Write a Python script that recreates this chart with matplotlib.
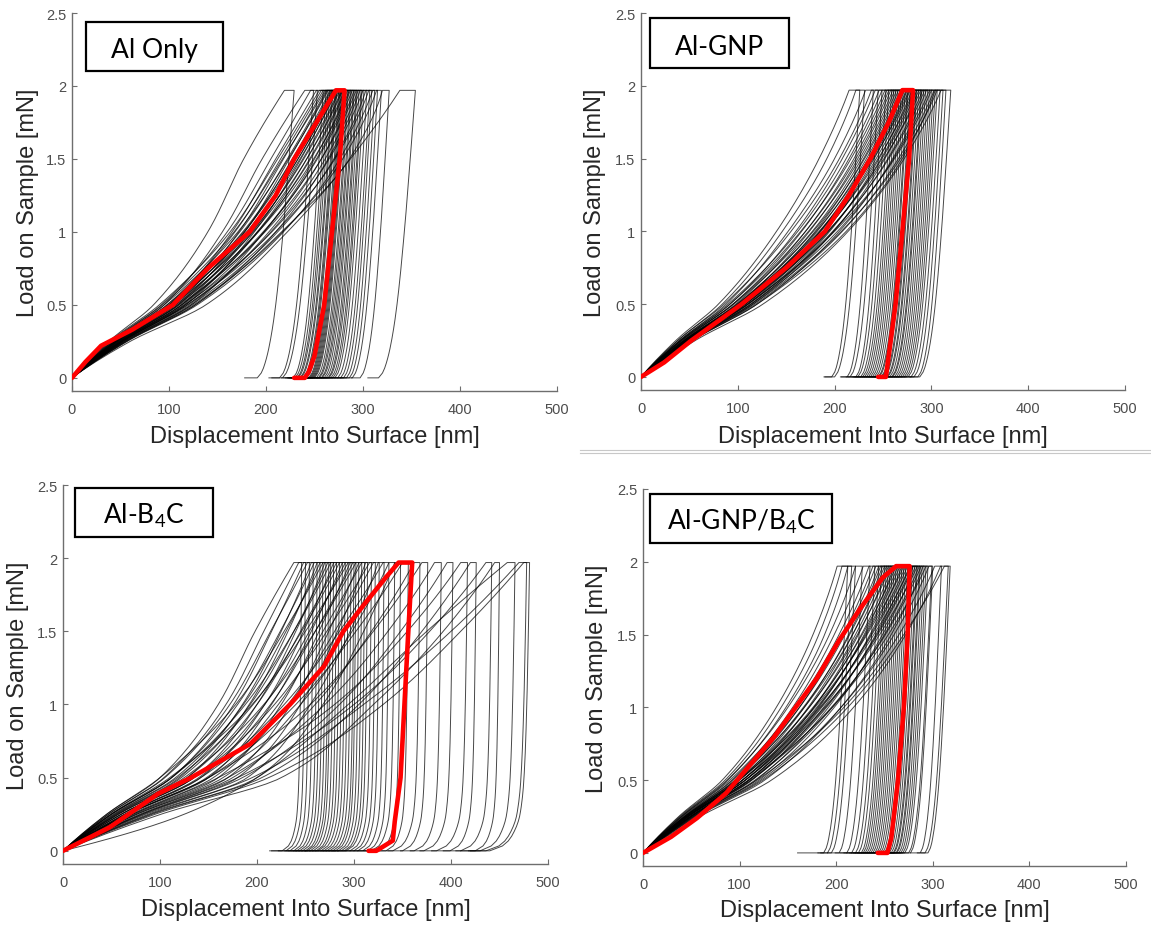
import numpy as np
import matplotlib
matplotlib.use("Agg")
import matplotlib.pyplot as plt
from matplotlib.patches import Rectangle
from matplotlib.lines import Line2D

plt.rcParams['font.family'] = ['Liberation Sans', 'DejaVu Sans']
plt.rcParams['mathtext.default'] = 'regular'

# ---------------- data ----------------
PANEL_LABELS = ["Al Only", "Al-GNP", "Al-B$_4$C", "Al-GNP/B$_4$C"]
XLABEL = "Displacement Into Surface [nm]"
YLABEL = "Load on Sample [mN]"
XTICKS = [0, 100, 200, 300, 400, 500]
YTICKS = [0, 0.5, 1, 1.5, 2, 2.5]
YTICKLABELS = ["0", "0.5", "1", "1.5", "2", "2.5"]

HOLD_LOAD = 1.97
LOAD_LEVELS = [0.0, 0.25, 0.5, 1.0, 1.5, 1.97]          # mN
UNLOAD_LEVELS = [0.0, 0.03, 0.1, 0.25, 0.5, 1.0, 1.5, 1.97]
UNLOAD_SHAPE_SOFT = [0.0, 0.10, 0.21, 0.35, 0.50, 0.70, 0.86, 1.0]
UNLOAD_SHAPE_STEEP = [0.0, 0.30, 0.55, 0.76, 0.86, 0.93, 0.97, 1.0]

# each row: depth [nm] at 0.25, 0.5, 1.0, 1.5, 1.97 mN (loading),
#           end of hold, depth at zero load, end of retraction
AL_ONLY = [
    [38, 84, 140, 177, 219, 229, 191, 178], [42, 95, 155, 196, 240, 249, 214, 203],
    [40, 92, 160, 205, 246, 253, 217, 206], [45, 100, 165, 210, 252, 259, 228, 216],
    [39, 90, 163, 212, 255, 262, 230, 218], [44, 98, 168, 215, 257, 264, 232, 220],
    [46, 105, 172, 218, 259, 266, 233, 222], [41, 93, 167, 217, 261, 268, 235, 223],
    [45, 101, 173, 222, 262, 269, 236, 224], [48, 109, 178, 224, 263, 271, 238, 226],
    [42, 95, 171, 223, 264, 272, 239, 227], [46, 104, 178, 227, 266, 273, 240, 228],
    [44, 100, 176, 228, 267, 275, 242, 230], [50, 113, 183, 231, 268, 276, 244, 232],
    [43, 98, 177, 230, 269, 277, 245, 233], [47, 107, 182, 233, 270, 278, 246, 234],
    [46, 103, 180, 233, 271, 279, 247, 235], [52, 117, 188, 236, 272, 280, 248, 236],
    [44, 101, 182, 235, 273, 281, 249, 237], [49, 110, 186, 238, 275, 282, 250, 238],
    [46, 105, 185, 239, 276, 284, 252, 240], [51, 115, 191, 242, 278, 285, 254, 242],
    [46, 104, 187, 242, 279, 287, 255, 243], [50, 113, 192, 245, 281, 288, 257, 245],
    [48, 109, 191, 246, 282, 290, 258, 246], [54, 123, 198, 250, 284, 291, 260, 248],
    [47, 107, 192, 249, 286, 293, 262, 250], [52, 117, 198, 252, 287, 294, 264, 252],
    [50, 113, 197, 253, 289, 296, 265, 253], [53, 121, 203, 257, 291, 298, 267, 255],
    [49, 111, 199, 257, 293, 299, 269, 257], [52, 119, 205, 261, 295, 301, 271, 259],
    [56, 127, 210, 264, 297, 304, 274, 262], [51, 116, 206, 265, 300, 307, 277, 265],
    [54, 123, 212, 270, 303, 309, 280, 268], [52, 119, 210, 271, 306, 312, 283, 271],
    [57, 129, 218, 276, 310, 315, 286, 274], [55, 125, 217, 279, 314, 319, 289, 277],
    [56, 127, 216, 286, 320, 327, 297, 288], [60, 138, 222, 287, 338, 354, 316, 305],
]
AL_GNP = [
    [36, 80, 140, 184, 215, 226, 197, 189], [38, 84, 146, 192, 222, 231, 200, 190],
    [40, 88, 152, 200, 232, 240, 213, 206], [38, 86, 155, 205, 238, 245, 216, 207],
    [41, 92, 160, 208, 242, 249, 222, 212], [40, 90, 162, 212, 246, 253, 224, 214],
    [42, 95, 166, 215, 249, 256, 227, 217], [41, 92, 165, 217, 252, 259, 229, 219],
    [44, 98, 170, 220, 254, 261, 231, 221], [42, 95, 170, 222, 256, 263, 233, 223],
    [45, 101, 174, 224, 258, 265, 235, 225], [43, 96, 173, 226, 260, 267, 237, 227],
    [45, 100, 177, 228, 262, 269, 239, 229], [46, 104, 180, 230, 264, 271, 241, 231],
    [44, 99, 178, 231, 266, 273, 243, 233], [46, 103, 182, 233, 268, 275, 245, 235],
    [48, 108, 185, 235, 269, 276, 246, 236], [45, 101, 181, 235, 271, 278, 248, 238],
    [47, 106, 186, 238, 272, 279, 249, 239], [46, 104, 185, 239, 274, 281, 251, 241],
    [49, 110, 190, 241, 275, 282, 252, 242], [45, 100, 184, 240, 277, 284, 254, 244],
    [48, 108, 190, 243, 278, 285, 255, 245], [51, 114, 195, 246, 280, 287, 257, 247],
    [47, 105, 189, 245, 282, 289, 259, 249], [49, 111, 194, 248, 283, 290, 260, 250],
    [48, 108, 193, 249, 285, 292, 262, 252], [52, 116, 199, 252, 287, 294, 264, 254],
    [47, 106, 193, 251, 289, 296, 266, 256], [50, 113, 199, 255, 291, 298, 268, 258],
    [49, 111, 198, 256, 293, 300, 270, 260], [53, 120, 205, 260, 295, 302, 272, 262],
    [51, 114, 203, 261, 298, 304, 274, 264], [49, 110, 200, 262, 300, 306, 276, 266],
    [52, 118, 208, 266, 303, 309, 279, 269], [51, 116, 207, 268, 306, 312, 282, 272],
    [53, 120, 212, 270, 304, 315, 286, 277], [56, 126, 214, 272, 310, 320, 288, 278],
]
AL_B4C = [
    [45, 100, 160, 198, 238, 246, 226, 213], [47, 104, 168, 207, 243, 250, 230, 215],
    [50, 112, 176, 215, 248, 254, 234, 222], [47, 105, 172, 214, 252, 258, 238, 228],
    [54, 120, 185, 225, 256, 262, 241, 230], [50, 112, 180, 224, 259, 265, 244, 232],
    [57, 128, 192, 232, 262, 268, 247, 235], [52, 116, 186, 230, 265, 271, 250, 238],
    [45, 100, 178, 228, 268, 274, 252, 240], [60, 135, 200, 240, 270, 276, 255, 243],
    [55, 122, 193, 238, 273, 279, 258, 246], [50, 112, 188, 238, 276, 282, 261, 249],
    [64, 142, 208, 248, 279, 285, 263, 250], [57, 128, 200, 245, 282, 288, 266, 254],
    [53, 118, 196, 246, 285, 291, 269, 257], [67, 150, 215, 256, 288, 294, 272, 260],
    [60, 135, 208, 254, 291, 297, 275, 263], [49, 110, 195, 250, 294, 300, 278, 266],
    [72, 160, 225, 264, 296, 302, 281, 268], [63, 140, 214, 260, 299, 305, 284, 271],
    [56, 125, 207, 260, 302, 308, 287, 274], [76, 170, 235, 274, 305, 311, 290, 277],
    [66, 148, 222, 268, 308, 314, 292, 279], [81, 180, 245, 283, 312, 318, 296, 283],
    [60, 135, 218, 272, 316, 322, 300, 288], [70, 155, 232, 280, 320, 326, 304, 291],
    [85, 190, 255, 296, 325, 331, 309, 296], [64, 142, 228, 285, 330, 336, 314, 300],
    [74, 165, 245, 298, 336, 342, 318, 304], [90, 200, 268, 310, 342, 348, 325, 310],
    [67, 150, 240, 302, 350, 356, 333, 318], [79, 175, 260, 318, 362, 368, 340, 326],
    [67, 150, 255, 320, 370, 376, 350, 335], [76, 170, 270, 335, 383, 390, 362, 348],
    [83, 185, 285, 348, 396, 402, 372, 358], [72, 160, 280, 355, 410, 417, 385, 368],
    [92, 205, 305, 370, 420, 426, 399, 380], [81, 180, 300, 378, 436, 442, 410, 392],
    [101, 225, 320, 392, 445, 450, 425, 405], [125, 200, 294, 375, 458, 466, 430, 410],
    [88, 195, 310, 400, 470, 478, 436, 418], [95, 212, 330, 410, 475, 481, 440, 420],
]
AL_GNP_B4C = [
    [37, 82, 138, 176, 201, 212, 187, 160], [38, 85, 143, 182, 206, 216, 191, 181],
    [40, 88, 148, 188, 212, 220, 195, 184], [39, 87, 150, 193, 220, 227, 203, 191],
    [41, 92, 155, 198, 228, 235, 211, 199], [40, 90, 157, 203, 234, 240, 216, 204],
    [43, 96, 162, 207, 238, 244, 220, 208], [42, 93, 162, 209, 241, 247, 223, 211],
    [44, 99, 167, 213, 244, 250, 226, 214], [43, 96, 166, 214, 246, 252, 228, 216],
    [46, 103, 171, 217, 248, 254, 230, 218], [43, 95, 167, 217, 250, 256, 232, 220],
    [45, 100, 172, 220, 252, 258, 234, 222], [47, 106, 177, 223, 254, 260, 236, 224],
    [44, 98, 172, 222, 256, 262, 238, 226], [46, 103, 177, 226, 258, 264, 240, 228],
    [49, 110, 182, 229, 260, 266, 242, 230], [45, 100, 176, 227, 262, 268, 244, 232],
    [47, 106, 181, 230, 264, 270, 246, 234], [46, 103, 180, 231, 266, 272, 248, 236],
    [50, 113, 187, 235, 268, 274, 250, 238], [44, 99, 178, 232, 270, 276, 252, 240],
    [49, 109, 185, 236, 272, 277, 253, 241], [47, 106, 184, 237, 274, 279, 255, 243],
    [52, 117, 192, 241, 276, 281, 257, 245], [46, 103, 183, 239, 277, 283, 259, 247],
    [50, 112, 190, 242, 279, 284, 260, 248], [49, 109, 189, 243, 280, 286, 262, 250],
    [53, 120, 198, 248, 282, 287, 263, 251], [47, 106, 188, 245, 284, 289, 265, 253],
    [51, 116, 196, 250, 286, 291, 267, 255], [50, 112, 195, 251, 288, 293, 269, 257],
    [56, 126, 205, 257, 290, 295, 271, 259], [49, 110, 196, 254, 293, 299, 275, 263],
    [54, 122, 205, 260, 296, 300, 277, 265], [52, 118, 208, 265, 302, 309, 287, 277],
    [59, 133, 218, 272, 308, 316, 292, 284], [55, 124, 212, 270, 312, 318, 295, 288],
]

# highlighted (red) curve of each panel: depth [nm] and load [mN]
RED_H = [
    [0, 14, 30, 62, 104, 140, 183, 210, 229, 252, 272, 281, 276, 268, 260, 250, 244, 240, 229],
    [0, 24, 52, 104, 150, 190, 215, 237, 256, 270, 281, 277, 270, 263, 255, 253, 245],
    [0, 48, 98, 132, 193, 234, 269, 289, 310, 333, 346, 360, 356, 352, 348, 342, 340, 323, 315],
    [0, 29, 56, 86, 109, 135, 158, 180, 203, 225, 248, 262, 276, 274, 270, 264, 257, 253, 243],
]
RED_P = [
    [0, 0.11, 0.22, 0.33, 0.5, 0.75, 1.0, 1.25, 1.5, 1.75, 1.97, 1.97, 1.5, 1.0, 0.5, 0.15, 0.04, 0, 0],
    [0, 0.1, 0.25, 0.5, 0.75, 1.0, 1.25, 1.5, 1.75, 1.97, 1.97, 1.5, 1.0, 0.5, 0.1, 0, 0],
    [0, 0.16, 0.39, 0.5, 0.73, 1.0, 1.26, 1.5, 1.68, 1.87, 1.97, 1.97, 1.5, 1.0, 0.5, 0.2, 0.07, 0, 0],
    [0, 0.11, 0.24, 0.41, 0.59, 0.79, 1.0, 1.2, 1.46, 1.68, 1.89, 1.97, 1.97, 1.5, 1.0, 0.5, 0.1, 0, 0],
]

PANEL_DATA = [AL_ONLY, AL_GNP, AL_B4C, AL_GNP_B4C]
PANEL_UNLOAD = [UNLOAD_SHAPE_SOFT, UNLOAD_SHAPE_SOFT, UNLOAD_SHAPE_STEEP, UNLOAD_SHAPE_SOFT]

# ---------------- helpers ----------------
def pchip(x, y, xn):
    x = np.asarray(x, float)
    y = np.asarray(y, float)
    xn = np.asarray(xn, float)
    h = np.diff(x)
    d = np.diff(y) / h
    n = len(x)
    m = np.zeros(n)
    for k in range(1, n - 1):
        if d[k - 1] * d[k] > 0:
            w1 = 2 * h[k] + h[k - 1]
            w2 = h[k] + 2 * h[k - 1]
            m[k] = (w1 + w2) / (w1 / d[k - 1] + w2 / d[k])

    def end(h0, h1, d0, d1):
        e = ((2 * h0 + h1) * d0 - h0 * d1) / (h0 + h1)
        if np.sign(e) != np.sign(d0):
            e = 0.0
        elif np.sign(d0) != np.sign(d1) and abs(e) > abs(3 * d0):
            e = 3 * d0
        return e

    m[0] = end(h[0], h[1], d[0], d[1])
    m[-1] = end(h[-1], h[-2], d[-1], d[-2])
    idx = np.clip(np.searchsorted(x, xn) - 1, 0, n - 2)
    t = (xn - x[idx]) / h[idx]
    h00 = 2 * t**3 - 3 * t**2 + 1
    h10 = t**3 - 2 * t**2 + t
    h01 = -2 * t**3 + 3 * t**2
    h11 = t**3 - t**2
    return h00 * y[idx] + h10 * h[idx] * m[idx] + h01 * y[idx + 1] + h11 * h[idx] * m[idx + 1]


def build_curve(row, shape):
    h25, h05, h1, h15, hmax, hhold, hf, hret = row
    Pl = np.linspace(0, HOLD_LOAD, 70)
    hl = pchip(LOAD_LEVELS, [0, h25, h05, h1, h15, hmax], Pl)
    Pu = np.linspace(HOLD_LOAD, 0, 60)
    hu_nodes = [hf + s * (hhold - hf) for s in shape]
    hu = pchip(UNLOAD_LEVELS, hu_nodes, Pu)
    xs = np.concatenate([hl, [hhold], hu, [hret]])
    ys = np.concatenate([Pl, [HOLD_LOAD], Pu, [0.0]])
    return xs, ys


# ---------------- layout (pixels of the 1151x928 canvas) ----------------
W, H = 1151, 928
AX_PX = [(72, 557, 14, 392), (641, 1125, 14, 391), (63, 548, 486, 865), (643, 1126, 490, 867)]
BOX_PX = [(86, 223, 23, 72), (650, 789, 19, 69), (75, 213, 489, 538), (650, 832, 495, 544)]
TEXT_BASE_PX = [58, 55, 524, 530]
YLABEL_X = [-0.0915, -0.095, -0.092, -0.095]
XLABEL_Y = [-0.119, -0.122, -0.118, -0.118]

fig = plt.figure(figsize=(W / 100, H / 100), dpi=100)

axis_color = '#6e6e6e'
tick_color = '#4d4d4d'

for i in range(4):
    l, r, t, b = AX_PX[i]
    ax = fig.add_axes([l / W, 1 - b / H, (r - l) / W, (b - t) / H])
    for row in PANEL_DATA[i]:
        xs, ys = build_curve(row, PANEL_UNLOAD[i])
        ax.plot(xs, ys, color='black', lw=0.7, alpha=0.72, solid_joinstyle='round')
    ax.plot(RED_H[i], RED_P[i], color='#ff0000', lw=3.3, solid_joinstyle='round',
            solid_capstyle='round', zorder=5)

    ax.set_xlim(0, 500)
    ax.set_ylim(-0.09, 2.5)
    ax.set_xticks(XTICKS)
    ax.set_xticklabels([str(v) for v in XTICKS])
    ax.set_yticks(YTICKS)
    ax.set_yticklabels(YTICKLABELS)
    for s in ['top', 'right']:
        ax.spines[s].set_visible(False)
    for s in ['left', 'bottom']:
        ax.spines[s].set_color(axis_color)
        ax.spines[s].set_linewidth(1.0)
    ax.tick_params(direction='in', length=3.5, width=0.8, color=axis_color,
                   labelsize=10.5, labelcolor=tick_color)
    ax.tick_params(axis='x', pad=8)
    ax.tick_params(axis='y', pad=4)
    ax.set_facecolor('none')

    ax.set_xlabel(XLABEL, fontsize=17, color='#262626')
    ax.xaxis.set_label_coords(0.5, XLABEL_Y[i])
    ax.xaxis.label.set_verticalalignment('center')
    ax.set_ylabel(YLABEL, fontsize=17, color='#262626')
    ax.yaxis.set_label_coords(YLABEL_X[i], 0.5)
    ax.yaxis.label.set_verticalalignment('center')

    bl, br, bt, bb = BOX_PX[i]
    fig.patches.append(Rectangle((bl / W, 1 - bb / H), (br - bl) / W, (bb - bt) / H,
                                 transform=fig.transFigure, fill=True, facecolor='white',
                                 edgecolor='black', linewidth=1.6, zorder=10))
    fig.text((bl + br) / 2 / W, 1 - TEXT_BASE_PX[i] / H, PANEL_LABELS[i],
             ha='center', va='baseline', fontsize=19, family=['Lato', 'DejaVu Sans'],
             color='black', zorder=11)

# thin separator line under the top-right panel
for yy in (451, 454):
    fig.lines.append(Line2D([580 / W, 1], [1 - yy / H, 1 - yy / H], transform=fig.transFigure,
                            color='#c8c8c8', lw=0.8))

fig.savefig('out.png', dpi=100)
